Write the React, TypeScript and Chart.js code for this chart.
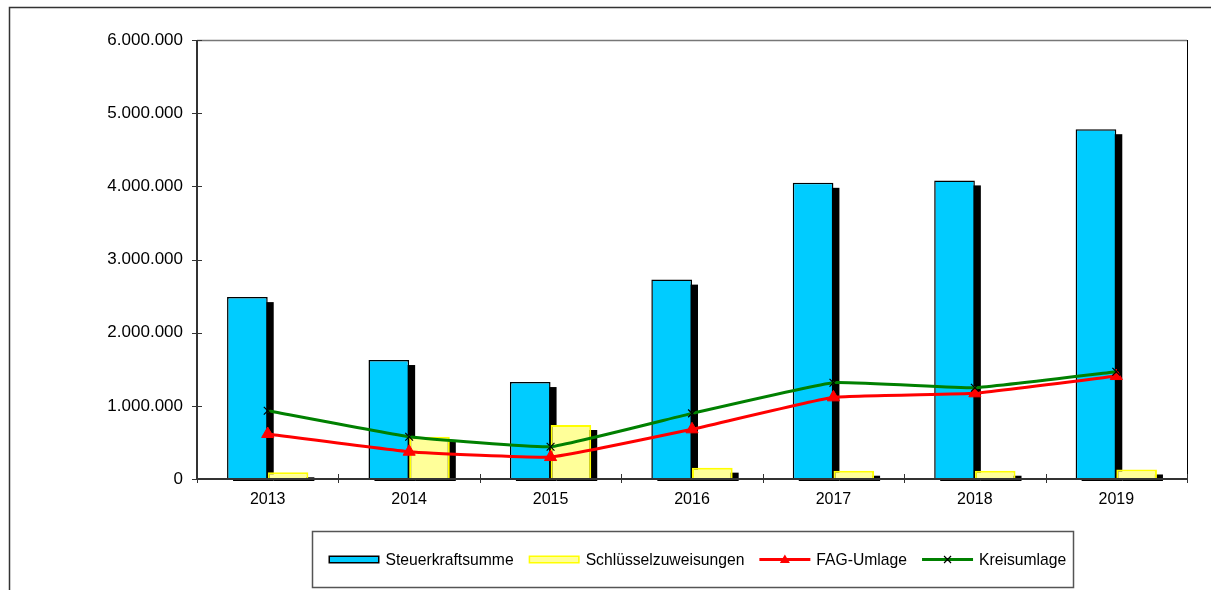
import React, { useEffect, useRef } from "react";
import { Chart, registerables } from "chart.js";

Chart.register(...registerables);

const years = ["2013", "2014", "2015", "2016", "2017", "2018", "2019"];
const steuerkraftsumme = [2486000, 1626000, 1325000, 2725000, 4048000, 4081000, 4781000];
const schluesselzuweisungen = [92000, 578000, 738000, 155000, 113000, 113000, 130000];
const fagUmlage = [615000, 373000, 300000, 679000, 1116000, 1171000, 1407000];
const kreisumlage = [933000, 578000, 441000, 897000, 1316000, 1247000, 1466000];
const yMax = 6000000;
const yStep = 1000000;

const FONT = "Arial, 'Liberation Sans', sans-serif";

function fmtDe(v: number): string {
  return String(Math.round(v)).replace(/\B(?=(\d{3})+(?!\d))/g, ".");
}

const decorPlugin = {
  id: "decor",
  beforeDatasetsDraw(chart: any) {
    const ctx = chart.ctx;
    const area = chart.chartArea;
    ctx.save();
    ctx.beginPath();
    ctx.rect(area.left, area.top - 20, area.right - area.left + 20, area.bottom - area.top + 22);
    ctx.clip();
    ctx.fillStyle = "#000000";
    chart.data.datasets.forEach((ds: any, i: number) => {
      if (ds.type !== "bar") return;
      const meta = chart.getDatasetMeta(i);
      meta.data.forEach((el: any) => {
        const p = el.getProps(["x", "y", "base", "width"], true);
        const left = p.x - p.width / 2;
        ctx.fillRect(left + 6, p.y + 5, p.width, p.base - p.y);
      });
    });
    ctx.restore();
  },
  afterDraw(chart: any) {
    const ctx = chart.ctx;
    const area = chart.chartArea;
    const xs = chart.scales.x;
    const ys = chart.scales.y;
    ctx.save();
    // outer frame
    ctx.strokeStyle = "#333333";
    ctx.lineWidth = 1.5;
    ctx.beginPath();
    ctx.moveTo(9.5, chart.height + 5);
    ctx.lineTo(9.5, 7.5);
    ctx.lineTo(chart.width + 5, 7.5);
    ctx.stroke();

    // plot frame
    ctx.lineWidth = 1.5;
    ctx.strokeStyle = "#777777";
    ctx.beginPath();
    ctx.moveTo(area.left, area.top + 0.5);
    ctx.lineTo(area.right, area.top + 0.5);
    ctx.stroke();
    ctx.lineWidth = 1;
    ctx.strokeStyle = "#000000";
    ctx.beginPath();
    ctx.moveTo(area.right + 0.5, area.top);
    ctx.lineTo(area.right + 0.5, area.bottom + 4);
    ctx.stroke();
    ctx.strokeStyle = "#333333";
    ctx.lineWidth = 2;
    ctx.beginPath();
    ctx.moveTo(area.left, area.top);
    ctx.lineTo(area.left, area.bottom);
    ctx.lineTo(area.right, area.bottom);
    ctx.stroke();

    // y ticks
    ctx.lineWidth = 1;
    ctx.strokeStyle = "#333333";
    ys.ticks.forEach((_t: any, i: number) => {
      const y = Math.round(ys.getPixelForTick(i)) + 0.5;
      ctx.beginPath();
      ctx.moveTo(area.left - 5, y);
      ctx.lineTo(area.left + 5, y);
      ctx.stroke();
    });
    // x ticks (between categories)
    const n = years.length;
    const step = (area.right - area.left) / n;
    for (let i = 0; i <= n; i++) {
      const x = Math.round(xs.getPixelForValue(i) - step / 2) + 0.5;
      ctx.beginPath();
      ctx.moveTo(x, area.bottom - 5);
      ctx.lineTo(x, area.bottom + 4);
      ctx.stroke();
    }

    // legend
    const ds = chart.data.datasets;
    ctx.font = "15.7px " + FONT;
    const iconW = 51;
    const gapIcon = 6;
    const gapItem = 15;
    const boxW = 761;
    const boxH = 56;
    const cx = (area.left + area.right) / 2;
    const boxL = Math.round(cx - boxW / 2) + 0.5;
    const boxT = 531.5;
    ctx.strokeStyle = "#555555";
    ctx.lineWidth = 1.5;
    ctx.strokeRect(boxL, boxT, boxW, boxH);
    const cy = boxT + boxH / 2;
    let x = boxL + 16;
    ds.forEach((d: any) => {
      if (d.type === "bar") {
        ctx.fillStyle = d.borderColor;
        ctx.fillRect(x, cy - 4, iconW, 8);
        ctx.fillStyle = d.backgroundColor;
        ctx.fillRect(x + 1.5, cy - 2.5, iconW - 3, 5);
      } else {
        ctx.strokeStyle = d.borderColor;
        ctx.lineWidth = 3;
        ctx.beginPath();
        ctx.moveTo(x, cy);
        ctx.lineTo(x + iconW, cy);
        ctx.stroke();
        const mx = x + iconW / 2;
        if (d.pointStyle === "triangle") {
          ctx.fillStyle = d.pointBackgroundColor;
          ctx.beginPath();
          ctx.moveTo(mx, cy - 5);
          ctx.lineTo(mx + 5, cy + 3.5);
          ctx.lineTo(mx - 5, cy + 3.5);
          ctx.closePath();
          ctx.fill();
        } else {
          ctx.strokeStyle = d.pointBorderColor;
          ctx.lineWidth = 1.2;
          ctx.beginPath();
          ctx.moveTo(mx - 3.5, cy - 3.5);
          ctx.lineTo(mx + 3.5, cy + 3.5);
          ctx.moveTo(mx + 3.5, cy - 3.5);
          ctx.lineTo(mx - 3.5, cy + 3.5);
          ctx.stroke();
        }
      }
      x += iconW + gapIcon;
      ctx.fillStyle = "#000000";
      ctx.textBaseline = "middle";
      ctx.textAlign = "left";
      ctx.fillText(d.label, x, cy + 1);
      x += ctx.measureText(d.label).width + gapItem;
    });
    ctx.restore();
  },
};

export default function App() {
  const canvasRef = useRef<HTMLCanvasElement | null>(null);

  useEffect(() => {
    const canvas = canvasRef.current;
    if (!canvas) return;
    const chart = new Chart(canvas, {
      type: "bar",
      data: {
        labels: years,
        datasets: [
          {
            type: "bar",
            label: "Steuerkraftsumme",
            data: steuerkraftsumme,
            backgroundColor: "#00CCFF",
            borderColor: "#000000",
            borderWidth: 1.5,
            order: 3,
            categoryPercentage: 0.575,
            barPercentage: 1,
          } as any,
          {
            type: "bar",
            label: "Schlüsselzuweisungen",
            data: schluesselzuweisungen,
            backgroundColor: "#FFFF99",
            borderColor: "#FFFF00",
            borderWidth: 2,
            order: 4,
            categoryPercentage: 0.575,
            barPercentage: 1,
          } as any,
          {
            type: "line",
            label: "FAG-Umlage",
            data: fagUmlage,
            borderColor: "#FF0000",
            borderWidth: 3,
            pointStyle: "triangle",
            pointRadius: 7,
            pointBackgroundColor: "#FF0000",
            pointBorderColor: "#FF0000",
            pointBorderWidth: 1,
            tension: 0.1,
            order: 2,
          } as any,
          {
            type: "line",
            label: "Kreisumlage",
            data: kreisumlage,
            borderColor: "#008000",
            borderWidth: 3,
            pointStyle: "crossRot",
            pointRadius: 5.5,
            pointBackgroundColor: "#000000",
            pointBorderColor: "#000000",
            pointBorderWidth: 1.2,
            tension: 0.1,
            order: 1,
          } as any,
        ],
      },
      options: {
        responsive: false,
        animation: false,
        devicePixelRatio: 1,
        layout: { padding: { left: 0, top: 40, right: 24, bottom: 66 } },
        plugins: {
          legend: { display: false },
          tooltip: { enabled: false },
          title: { display: false },
        },
        scales: {
          x: {
            type: "category",
            offset: true,
            grid: { display: false },
            border: { display: false },
            ticks: {
              color: "#000000",
              font: { family: FONT, size: 16 },
              padding: 3,
              maxRotation: 0,
            },
            afterFit: (s: any) => {
              s.height = 45;
            },
          },
          y: {
            min: 0,
            max: yMax,
            grid: { display: false },
            border: { display: false },
            ticks: {
              stepSize: yStep,
              color: "#000000",
              font: { family: FONT, size: 17 },
              padding: 6,
              callback: (v: any) => fmtDe(Number(v)),
            },
            afterFit: (s: any) => {
              s.width = 197;
            },
          },
        },
      } as any,
      plugins: [decorPlugin],
    });
    return () => chart.destroy();
  }, []);

  return (
    <div style={{ position: "fixed", left: 0, top: 0, width: 1211, height: 590, background: "#ffffff" }}>
      <canvas ref={canvasRef} width={1211} height={590} style={{ display: "block" }} />
    </div>
  );
}
